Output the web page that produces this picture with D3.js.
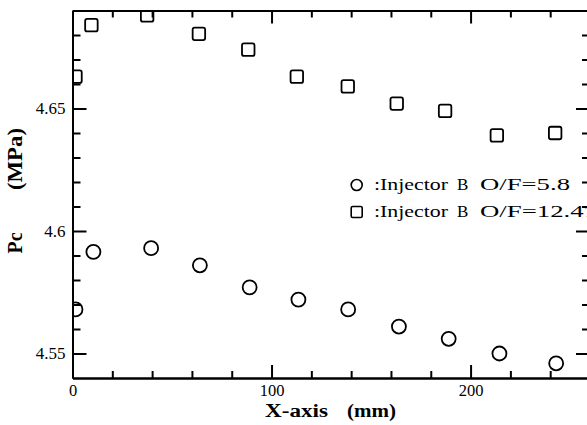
<!DOCTYPE html>
<html>
<head>
<meta charset="utf-8">
<script src="https://cdn.jsdelivr.net/npm/d3@7"></script>
<style>
  html, body { margin: 0; padding: 0; background: #fff; }
  svg { display: block; }
  .axis path, .axis line { stroke: #000; stroke-width: 2; }
  .axis text { font-family: "Liberation Serif", "Times New Roman", serif; font-size: 17px; fill: #000; }
  .axis.xlab text { font-size: 16.5px; }
</style>
</head>
<body>
<svg id="chart" width="587" height="425"></svg>
<script>
// ---- data ----
const seriesNames = [":Injector B O/F=5.8", ":Injector B O/F=12.47"];
const xCircle = [1.5, 10.5, 39.5, 64, 89, 113.5, 138.5, 164, 189, 214.5, 243];
const yCircle = [4.568, 4.5915, 4.593, 4.586, 4.577, 4.572, 4.568, 4.561, 4.556, 4.550, 4.546];
const xSquare = [1.5, 9.5, 37.5, 63.5, 88.3, 112.7, 138.3, 162.9, 187.2, 213.2, 242.5];
const ySquare = [4.663, 4.684, 4.688, 4.6805, 4.674, 4.663, 4.659, 4.652, 4.649, 4.639, 4.640];
const xMajorTicks = [0, 100, 200];
const xMinorTicks = [20, 40, 60, 80, 120, 140, 160, 180, 220, 240];
const yMajorTicks = [4.55, 4.6, 4.65];
const yMinorTicks = [4.56, 4.57, 4.58, 4.59, 4.61, 4.62, 4.63, 4.64, 4.66, 4.67, 4.68];
const yTickLabels = ["4.55", "4.6", "4.65"];
const xTickLabels = ["0", "100", "200"];

(function () {
// ---- layout ----
const mLeft = 72.5, mRight = 590, mTop = 10.5, mBottom = 378;
const svg = d3.select("#chart");
const x = d3.scaleLinear().domain([0, 260]).range([mLeft, mRight]);
const y = d3.scaleLinear().domain([4.54, 4.69]).range([mBottom, mTop]);

svg.append("defs").append("clipPath").attr("id", "plotclip")
  .append("rect").attr("x", mLeft).attr("y", mTop).attr("width", mRight - mLeft).attr("height", mBottom - mTop);

// bottom axis
svg.append("g").attr("class", "axis").attr("transform", `translate(0,${mBottom})`)
  .call(d3.axisBottom(x).tickValues(xMinorTicks).tickSizeInner(-7).tickSizeOuter(0).tickFormat(""));
svg.append("g").attr("class", "axis xlab").attr("transform", `translate(0,${mBottom})`)
  .call(d3.axisBottom(x).tickValues(xMajorTicks).tickSizeInner(-13).tickSizeOuter(0).tickPadding(6.5)
    .tickFormat((d, i) => xTickLabels[i]));
// top axis
svg.append("g").attr("class", "axis").attr("transform", `translate(0,${mTop})`)
  .call(d3.axisTop(x).tickValues(xMinorTicks).tickSizeInner(-7).tickSizeOuter(0).tickFormat(""));
svg.append("g").attr("class", "axis").attr("transform", `translate(0,${mTop})`)
  .call(d3.axisTop(x).tickValues(xMajorTicks).tickSizeInner(-13).tickSizeOuter(0).tickFormat(""));
// left axis
svg.append("g").attr("class", "axis").attr("transform", `translate(${mLeft},0)`)
  .call(d3.axisLeft(y).tickValues(yMinorTicks).tickSizeInner(-8).tickSizeOuter(0).tickFormat(""));
svg.append("g").attr("class", "axis").attr("transform", `translate(${mLeft},0)`)
  .call(d3.axisLeft(y).tickValues(yMajorTicks).tickSizeInner(-14).tickSizeOuter(0).tickPadding(7)
    .tickFormat((d, i) => yTickLabels[i]));
// right axis
svg.append("g").attr("class", "axis").attr("transform", `translate(${mRight},0)`)
  .call(d3.axisRight(y).tickValues(yMinorTicks).tickSizeInner(-8).tickSizeOuter(0).tickFormat(""));
svg.append("g").attr("class", "axis").attr("transform", `translate(${mRight},0)`)
  .call(d3.axisRight(y).tickValues(yMajorTicks).tickSizeInner(-14).tickSizeOuter(0).tickFormat(""));

// markers
const plot = svg.append("g").attr("clip-path", "url(#plotclip)");
plot.selectAll("circle.pt").data(xCircle.map((v, i) => [v, yCircle[i]])).join("circle")
  .attr("class", "pt")
  .attr("cx", d => x(d[0])).attr("cy", d => y(d[1])).attr("r", 7)
  .attr("fill", "none").attr("stroke", "#000").attr("stroke-width", 1.8);
const sq = 12.5;
plot.selectAll("rect.pt").data(xSquare.map((v, i) => [v, ySquare[i]])).join("rect")
  .attr("class", "pt")
  .attr("x", d => x(d[0]) - sq / 2).attr("y", d => y(d[1]) - sq / 2)
  .attr("width", sq).attr("height", sq).attr("rx", 2)
  .attr("fill", "none").attr("stroke", "#000").attr("stroke-width", 1.8);

// axis titles
const serif = "'Liberation Serif', 'Times New Roman', serif";
svg.append("text").attr("x", 265).attr("y", 416.5).attr("font-family", serif)
  .attr("font-weight", "bold").attr("font-size", 18).attr("textLength", 63)
  .attr("lengthAdjust", "spacingAndGlyphs").text("X-axis");
svg.append("text").attr("x", 347).attr("y", 416.5).attr("font-family", serif)
  .attr("font-weight", "bold").attr("font-size", 18).attr("textLength", 49)
  .attr("lengthAdjust", "spacingAndGlyphs").text("(mm)");
svg.append("text").attr("transform", "translate(22,159) rotate(-90)").attr("text-anchor", "middle")
  .attr("font-family", serif).attr("font-weight", "bold").attr("font-size", 20)
  .attr("textLength", 62).attr("lengthAdjust", "spacingAndGlyphs").text("(MPa)");
svg.append("text").attr("transform", "translate(22,243) rotate(-90)").attr("text-anchor", "middle")
  .attr("font-family", serif).attr("font-weight", "bold").attr("font-size", 20)
  .attr("textLength", 21).attr("lengthAdjust", "spacingAndGlyphs").text("Pc");

// legend
const legY = [185, 212];
const legend = svg.append("g");
legend.append("circle").attr("cx", 356.7).attr("cy", legY[0]).attr("r", 5.5)
  .attr("fill", "none").attr("stroke", "#000").attr("stroke-width", 1.6);
legend.append("rect").attr("x", 356.7 - 5.5).attr("y", legY[1] - 5.5).attr("width", 11).attr("height", 11)
  .attr("rx", 1.5).attr("fill", "none").attr("stroke", "#000").attr("stroke-width", 1.6);
seriesNames.forEach((name, i) => {
  const parts = name.split(" ");
  const row = legend.append("g").attr("font-family", serif).attr("font-size", 17);
  const base = legY[i] + 5;
  row.append("text").attr("x", 374).attr("y", base).attr("textLength", 74)
    .attr("lengthAdjust", "spacingAndGlyphs").text(parts[0]);
  row.append("text").attr("x", 457).attr("y", base).text(parts[1]);
  row.append("text").attr("x", 480).attr("y", base)
    .attr("textLength", i === 0 ? 90 : 117).attr("lengthAdjust", "spacingAndGlyphs").text(parts[2]);
});
})();
</script>
</body>
</html>
